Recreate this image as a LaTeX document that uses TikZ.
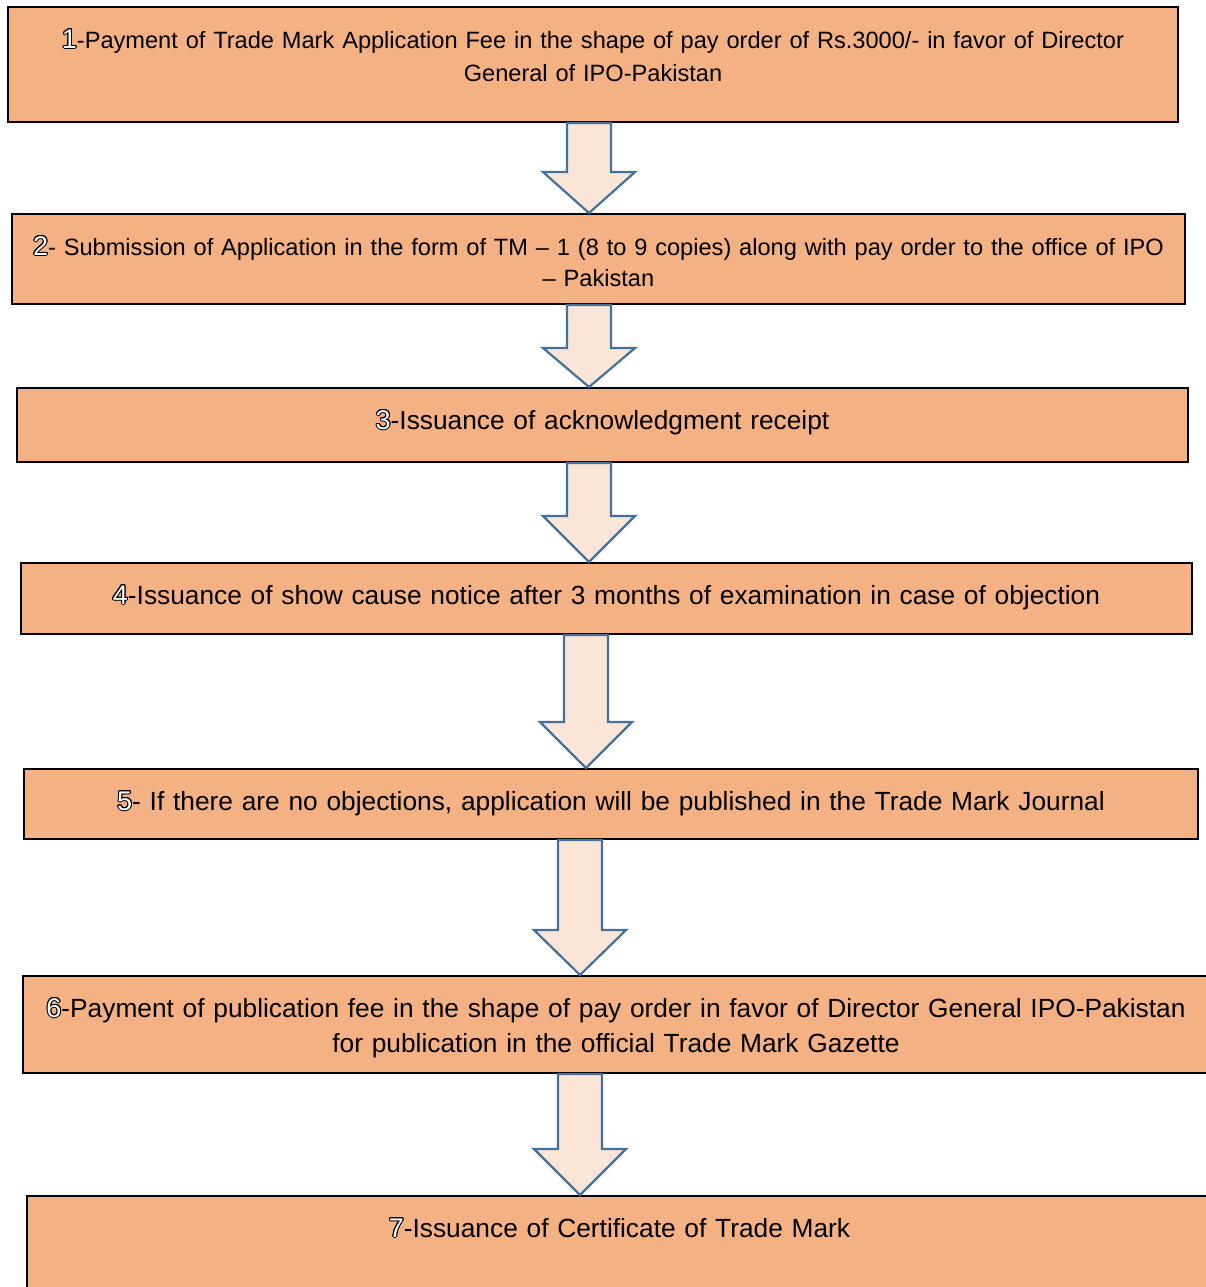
\documentclass[tikz,border=0pt]{standalone}
\usepackage{fontspec}
\setmainfont{Liberation Sans}
\usepackage{contour}
\usetikzlibrary{calc}
\contourlength{0.5pt}
\definecolor{boxfill}{HTML}{F4B183}
\definecolor{arrowfill}{HTML}{FBE5D6}
\definecolor{arrowline}{HTML}{41719C}
\newcommand{\stepno}[1]{{\fontsize{13.5}{16}\selectfont\color{white}\contour{black}{#1}}}
% block arrow from the bottom of one box to the top of the next
\newcommand{\flowarrow}[4]{%
  \draw[blockarrow]
    (#3-22,0 |- #1.south) -- (#3+22,0 |- #1.south)
    -- ($(#3+22,0 |- #2.north)+(0,-#4)$) -- ($(#3+46,0 |- #2.north)+(0,-#4)$)
    -- (#3,0 |- #2.north)
    -- ($(#3-46,0 |- #2.north)+(0,-#4)$) -- ($(#3-22,0 |- #2.north)+(0,-#4)$)
    -- cycle;}
\tikzset{
  box/.style={draw=black, line width=1pt, fill=boxfill, anchor=north west, inner sep=0pt},
  steptext/.style={anchor=base, text width=650pt, align=center, inner sep=0pt,
    font=\fontsize{13.15}{16.5}\selectfont},
  blockarrow/.style={draw=arrowline, line width=1.1pt, fill=arrowfill, line join=miter}
}
\begin{document}
\begin{tikzpicture}[x=0.5pt,y=-0.5pt]
  \useasboundingbox (0,0) rectangle (1206,1287);
  % boxes
  \node[box, minimum width=585pt, minimum height=57.5pt] (s1) at (7,6) {};
  \node[box, minimum width=586.5pt, minimum height=45pt] (s2) at (11,213) {};
  \node[box, minimum width=585.5pt, minimum height=37pt] (s3) at (16,387) {};
  \node[box, minimum width=585.5pt, minimum height=35.5pt] (s4) at (20,562) {};
  \node[box, minimum width=587pt, minimum height=35pt] (s5) at (23,768) {};
  \node[box, minimum width=593pt, minimum height=48.5pt] (s6) at (22,975) {};
  \node[box, minimum width=592.5pt, minimum height=55pt] (s7) at (26,1195) {};
  % texts
  \node[steptext, font=\fontsize{11.8}{16.5}\selectfont] (t1) at ($(s1.north)+(0,42)$)
    {\stepno{1}-Payment of Trade Mark Application Fee in the shape of pay order of Rs.3000/- in favor of Director\\General of IPO-Pakistan};
  \node[steptext, font=\fontsize{11.8}{15.5}\selectfont] (t2) at ($(s2.north)+(0,42)$)
    {\stepno{2}- Submission of Application in the form of TM – 1 (8 to 9 copies) along with pay order to the office of IPO\\– Pakistan};
  \node[steptext] (t3) at ($(s3.north)+(0,42)$)
    {\stepno{3}-Issuance of acknowledgment receipt};
  \node[steptext] (t4) at ($(s4.north)+(0,42)$)
    {\stepno{4}-Issuance of show cause notice after 3 months of examination in case of objection};
  \node[steptext] (t5) at ($(s5.north)+(0,42)$)
    {\stepno{5}- If there are no objections, application will be published in the Trade Mark Journal};
  \node[steptext, font=\fontsize{13.15}{17.5}\selectfont] (t6) at ($(s6.north)+(0,42)$)
    {\stepno{6}-Payment of publication fee in the shape of pay order in favor of Director General IPO-Pakistan\\for publication in the official Trade Mark Gazette};
  \node[steptext] (t7) at ($(s7.north)+(0,42)$)
    {\stepno{7}-Issuance of Certificate of Trade Mark};
  % arrows
  \flowarrow{s1}{s2}{589}{41}
  \flowarrow{s2}{s3}{589}{39}
  \flowarrow{s3}{s4}{589}{46}
  \flowarrow{s4}{s5}{586}{46}
  \flowarrow{s5}{s6}{580}{45}
  \flowarrow{s6}{s7}{580}{46}
\end{tikzpicture}
\end{document}
